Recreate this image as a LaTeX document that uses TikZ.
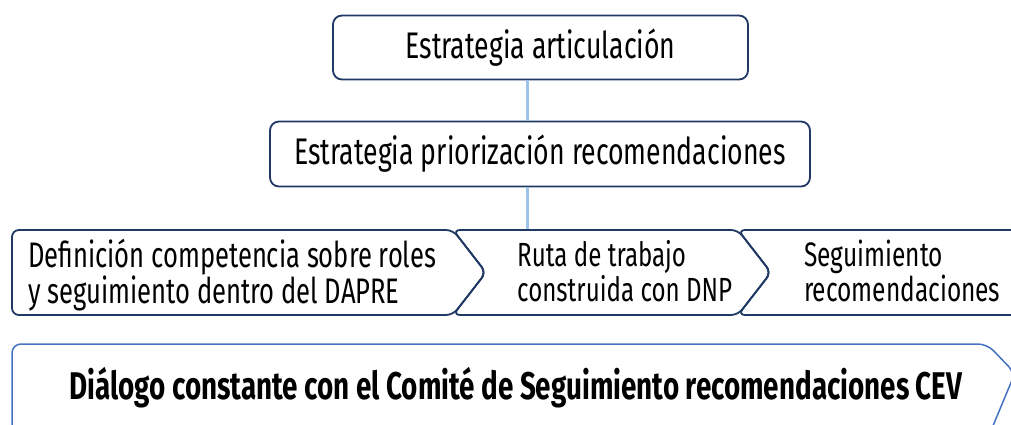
\documentclass[tikz,border=0pt]{standalone}
\usepackage{fontspec}
\setmainfont{Fira Sans}[FakeStretch=0.72]
\usetikzlibrary{positioning}
\definecolor{navy}{RGB}{31,56,100}
\definecolor{linkblue}{RGB}{157,195,230}
\definecolor{softblue}{RGB}{68,114,196}
\tikzset{
  topbox/.style={draw=navy, line width=1.8pt, rounded corners=9pt, fill=white,
    inner sep=0pt, font=\fontsize{37}{40}\selectfont},
  chev/.style={draw=navy, line width=1.8pt, rounded corners=7pt},
  chevtext/.style={align=left, inner sep=0pt, font=\fontsize{34}{35}\selectfont},
  link/.style={draw=linkblue, line width=3pt},
  flow/.style={draw=softblue, line width=1.5pt, rounded corners=9pt}
}
\begin{document}
\begin{tikzpicture}[x=1pt,y=-1pt]
  \useasboundingbox (0,0) rectangle (1011,425);
  \clip (0,0) rectangle (1011,425);

  % connectors
  \coordinate (axis) at (527,0);
  \coordinate (rowtop) at (527,230);

  \node[topbox, minimum width=415pt, minimum height=64pt] (artic) at (540.5,47.5) {Estrategia articulación};
  \node[topbox, minimum width=540pt, minimum height=65pt] (prior) at (540,154) {Estrategia priorización recomendaciones};

  \draw[link] (artic.south -| axis) -- (prior.north -| axis);
  \draw[link] (prior.south -| axis) -- (rowtop);

  % process row
  \draw[chev] (453,230) -- (12,230) -- (12,315) -- (453,315) -- (486,272.5) -- cycle;
  \draw[chev] (453,230) -- (738,230) -- (771,272.5) -- (738,315) -- (453,315) -- (486,272.5) -- cycle;
  \draw[chev] (738,230) -- (1040,230) -- (1040,315) -- (738,315) -- (771,272.5) -- cycle;

  \node[chevtext, anchor=west, font=\fontsize{35.5}{35}\selectfont] (roles) at (28,275) {Definición competencia sobre roles\\y seguimiento dentro del DAPRE};
  \node[chevtext, anchor=west, font=\fontsize{33.5}{35}\selectfont] (ruta) at (517,271) {Ruta de trabajo\\construida con DNP};
  \node[chevtext, anchor=west] (segui) at (804,271) {Seguimiento\\recomendaciones};

  % bottom arrow
  \draw[flow] (987,344) -- (12,344) -- (12,445) -- (985,445) -- (1015,373) -- cycle;
  \node[font=\bfseries\fontsize{38.6}{40}\selectfont] (dialogo) at (516,388) {Diálogo constante con el Comité de Seguimiento recomendaciones CEV};
\end{tikzpicture}
\end{document}
